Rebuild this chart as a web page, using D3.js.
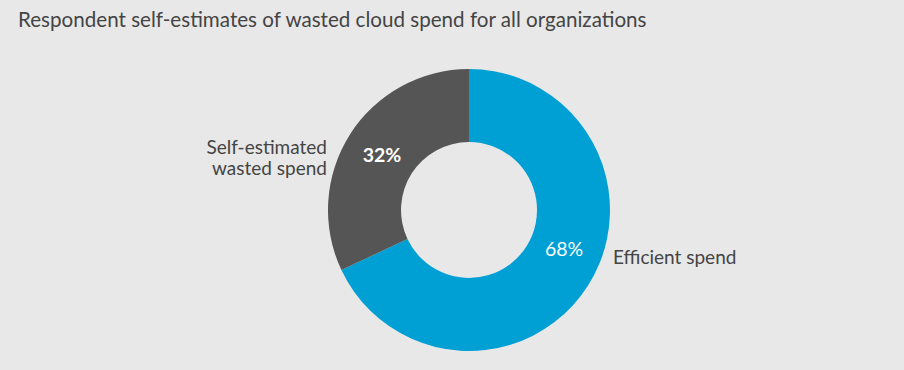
<!DOCTYPE html>
<html>
  <head>
    <meta charset="utf-8">
    <title>Wasted cloud spend</title>
    <script src="https://cdn.jsdelivr.net/npm/d3@7/dist/d3.min.js"></script>
    <style>
      body { margin: 0; background: #e8e8e8; }
      text { font-family: "Source Sans Pro", Lato, "Open Sans", sans-serif; }
    </style>
  </head>
  <body>
    <script>
      // data
      var categories = ["Efficient spend", "Self-estimated wasted spend"];
      var values = [68, 32];
      var labelLines = [["Efficient spend"], ["Self-estimated", "wasted spend"]];
      var colors = ["#009fd4", "#555555"];

      var w = 904, h = 370;
      var cx = 469, cy = 210;
      var outerR = 141, innerR = 68;

      var svg = d3.select("body").append("svg")
          .attr("width", w)
          .attr("height", h);

      svg.append("rect").attr("width", w).attr("height", h).attr("fill", "#e8e8e8");

      // title
      svg.append("text")
          .attr("x", 18)
          .attr("y", 27)
          .attr("fill", "#444")
          .style("font-size", "20.6px")
          .text("Respondent self-estimates of wasted cloud spend for all organizations");

      var pie = d3.pie().sort(null).value(function(d) { return d; });
      var arcs = pie(values);

      var arc = d3.arc().innerRadius(innerR).outerRadius(outerR);

      var g = svg.append("g").attr("transform", "translate(" + cx + "," + cy + ")");

      g.selectAll("path")
        .data(arcs)
        .enter()
        .append("path")
        .attr("d", arc)
        .attr("fill", function(d, i) { return colors[i]; });

      // percentage labels inside the ring
      var labelArc = d3.arc().innerRadius(100).outerRadius(106);
      var labelFrac = [0.46, 0.5];
      g.selectAll("text.pct")
        .data(arcs)
        .enter()
        .append("text")
        .attr("class", "pct")
        .attr("transform", function(d, i) {
          var a = d.startAngle + (d.endAngle - d.startAngle) * labelFrac[i];
          var p = labelArc.centroid({ startAngle: a, endAngle: a });
          return "translate(" + p[0] + "," + p[1] + ")";
        })
        .attr("text-anchor", "middle")
        .attr("dy", "0.35em")
        .attr("fill", "#fff")
        .style("font-size", "19.5px")
        .style("font-weight", function(d, i) { return i === 1 ? "bold" : "normal"; })
        .text(function(d) { return d.value + "%"; });

      // category labels outside
      var outside = [
        { x: 613, y: 257, anchor: "start" },
        { x: 327, y: 147, anchor: "end" }
      ];
      categories.forEach(function(c, i) {
        var t = svg.append("text")
            .attr("x", outside[i].x)
            .attr("y", outside[i].y)
            .attr("text-anchor", outside[i].anchor)
            .attr("fill", "#444")
            .style("font-size", "19px");
        labelLines[i].forEach(function(line, j) {
          t.append("tspan")
            .attr("x", outside[i].x)
            .attr("dy", j === 0 ? "0.35em" : "21px")
            .text(line);
        });
      });
    </script>
  </body>
</html>
